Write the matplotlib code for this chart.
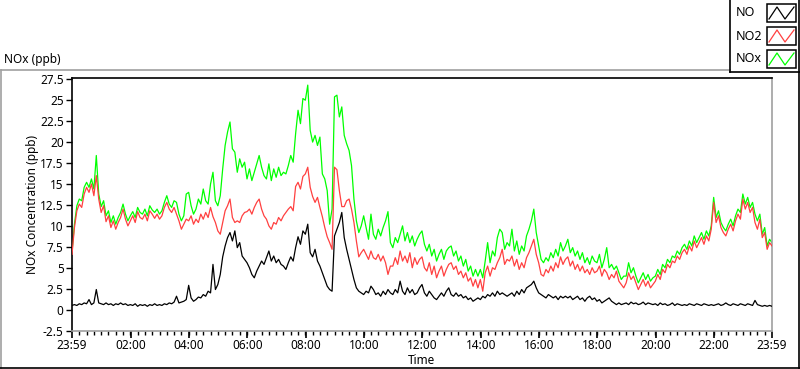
import matplotlib
matplotlib.use('Agg')
import matplotlib.pyplot as plt
from matplotlib.patches import Rectangle
import numpy as np

plt.rcParams['font.family'] = ['Noto Sans', 'DejaVu Sans']

# 5-minute readings starting at 23:59, one row per hour
no_ppb = [
    0.5, 0.6, 0.5, 0.7, 0.6, 0.8, 0.7, 1.2, 0.6, 0.8, 2.4, 0.8,
    0.7, 0.6, 0.8, 0.6, 0.7, 0.5, 0.7, 0.6, 0.8, 0.6, 0.7, 0.5,
    0.6, 0.5, 0.7, 0.4, 0.6, 0.5, 0.6, 0.4, 0.6, 0.5, 0.7, 0.5,
    0.6, 0.5, 0.7, 0.6, 0.8, 0.7, 0.9, 1.6, 0.8, 0.9, 1.0, 1.2,
    2.9, 1.4, 1.0, 1.2, 1.5, 1.4, 1.8, 1.6, 2.2, 2.0, 5.4, 2.4,
    3.0, 4.2, 6.3, 7.6, 8.6, 9.2, 8.2, 9.4, 7.4, 8.0, 6.4, 6.0,
    5.6, 5.0, 4.2, 3.8, 4.6, 5.2, 5.8, 5.4, 6.2, 7.0, 5.8, 6.4,
    5.6, 6.0, 5.4, 5.2, 4.8, 5.6, 6.3, 5.8, 7.4, 8.7, 7.8, 9.4,
    9.0, 10.2, 6.8, 6.3, 7.2, 5.8, 5.2, 4.4, 3.6, 2.8, 2.4, 2.2,
    8.8, 9.6, 10.4, 11.6, 8.6, 7.2, 6.0, 4.8, 3.6, 2.6, 2.2, 2.0,
    1.8, 2.2, 2.0, 2.8, 2.4, 1.8, 2.0, 1.6, 2.2, 1.8, 2.4, 2.0,
    1.8, 2.4, 2.0, 3.4, 2.2, 1.8, 2.6, 2.0, 2.4, 1.8, 2.0, 2.6,
    3.0, 2.0, 1.6, 2.2, 1.8, 1.4, 1.2, 1.6, 2.0, 1.6, 2.2, 2.6,
    1.8, 1.6, 2.0, 1.6, 1.8, 1.4, 1.6, 1.2, 1.4, 1.0, 1.2, 1.4,
    1.2, 1.6, 1.4, 1.8, 1.6, 2.0, 1.6, 2.2, 1.8, 2.0, 1.8, 1.6,
    1.8, 2.0, 1.6, 2.2, 1.8, 2.4, 2.0, 2.6, 2.8, 3.0, 3.4, 2.6,
    2.0, 1.8, 1.6, 1.4, 1.8, 1.6, 1.4, 1.6, 1.2, 1.6, 1.4, 1.6,
    1.4, 1.6, 1.2, 1.4, 1.6, 1.2, 1.4, 1.0, 1.4, 1.6, 1.2, 1.4,
    1.0, 1.2, 0.8, 1.0, 1.2, 1.4, 1.0, 0.8, 0.6, 0.8, 0.6, 0.7,
    0.8, 0.6, 0.9, 0.7, 0.8, 0.6, 0.7, 0.9, 0.6, 0.8, 0.7, 0.6,
    0.7, 0.5, 0.8, 0.6, 0.7, 0.5, 0.6, 0.8, 0.5, 0.7, 0.6, 0.5,
    0.6, 0.5, 0.7, 0.6, 0.5, 0.7, 0.6, 0.5, 0.7, 0.6, 0.5, 0.6,
    0.5, 0.6, 0.7, 0.5, 0.6, 0.8, 0.6, 0.5, 0.7, 0.6, 0.5, 0.7,
    0.6, 0.5, 0.7, 0.6, 0.5, 1.1, 0.6, 0.5, 0.4, 0.5, 0.4, 0.5,
    0.4,
]
no2_ppb = [
    6.6, 9.8, 11.8, 12.6, 12.2, 13.8, 14.6, 14.0, 15.0, 13.6, 16.0, 13.2,
    11.6, 12.4, 10.5, 11.2, 9.8, 10.6, 9.6, 10.4, 11.0, 12.0, 10.8, 10.0,
    10.6, 11.2, 10.4, 11.7, 11.0, 10.8, 11.4, 10.6, 11.8, 11.4, 10.9, 11.4,
    10.8, 11.2, 12.2, 12.8, 12.0, 11.6, 12.2, 11.4, 10.6, 9.6, 10.2, 10.8,
    10.6, 11.2, 10.2, 10.8, 10.4, 11.4, 10.8, 11.6, 11.0, 12.2, 11.1, 10.4,
    9.4, 9.0, 10.4, 11.8, 12.4, 13.2, 11.0, 10.4, 10.6, 10.4, 11.2, 11.6,
    11.7, 12.0, 11.4, 12.2, 12.8, 13.2, 12.0, 11.2, 10.8, 10.0, 9.6, 10.4,
    10.2, 11.0, 10.6, 11.2, 11.6, 12.0, 12.3, 11.8, 14.7, 15.2, 14.4, 15.9,
    16.2, 17.0, 14.6, 13.5, 12.8, 13.4, 12.2, 11.1, 9.8, 8.7, 8.0, 7.2,
    17.0, 16.7, 14.2, 12.3, 12.3, 13.0, 13.2, 12.0, 10.4, 8.2, 6.3, 6.8,
    7.2, 6.6, 6.0, 7.0, 6.2, 6.0, 6.6, 5.8, 6.4, 5.6, 4.2, 5.2,
    5.2, 6.2, 5.4, 7.0, 5.8, 6.4, 5.6, 6.8, 5.0, 6.2, 5.4, 6.0,
    6.3, 5.0, 4.6, 5.6, 4.2, 5.2, 3.8, 4.6, 5.2, 4.0, 4.8, 5.4,
    5.6, 4.8, 5.2, 4.2, 4.6, 3.8, 4.4, 3.4, 3.8, 2.8, 3.6, 2.6,
    3.6, 2.2, 4.4, 5.2, 4.0, 5.0, 4.8, 5.6, 6.2, 7.2, 5.4, 6.0,
    5.8, 6.4, 5.2, 6.0, 4.8, 5.6, 5.0, 6.2, 6.8, 7.6, 8.4, 6.6,
    5.6, 4.2, 4.0, 4.8, 4.4, 5.2, 4.6, 5.6, 5.0, 6.3, 5.4, 6.0,
    6.3, 5.2, 5.8, 4.8, 5.4, 4.6, 5.2, 4.4, 4.8, 4.2, 5.0, 4.4,
    4.6, 5.2, 4.0, 4.8, 4.4, 3.6, 4.2, 3.8, 4.6, 3.4, 3.0, 2.6,
    3.2, 4.4, 3.6, 4.0, 3.2, 2.4, 3.0, 3.6, 2.8, 3.4, 2.6, 3.0,
    3.4, 4.2, 3.6, 4.8, 4.4, 5.4, 5.0, 5.8, 5.6, 6.4, 6.0, 6.8,
    7.2, 6.6, 7.6, 7.0, 8.2, 7.4, 8.0, 8.6, 7.8, 8.8, 8.2, 9.6,
    12.8, 10.4, 11.2, 9.8, 9.2, 8.8, 9.6, 10.2, 9.4, 10.6, 11.4, 10.8,
    13.2, 12.0, 12.8, 11.6, 12.2, 10.4, 9.6, 10.8, 8.6, 9.2, 7.2, 8.0,
    7.6,
]
nox_ppb = [
    6.9, 10.2, 12.4, 13.2, 13.0, 14.6, 15.2, 14.6, 15.6, 14.4, 18.4, 13.8,
    12.3, 13.0, 11.2, 11.8, 10.4, 11.2, 10.2, 11.0, 11.6, 12.6, 11.4, 10.6,
    11.2, 11.7, 11.0, 12.2, 11.6, 11.4, 12.0, 11.2, 12.4, 11.9, 11.6, 12.0,
    11.4, 11.8, 12.8, 13.6, 12.6, 12.2, 13.0, 12.8, 11.4, 10.6, 11.2, 13.8,
    14.0, 12.4, 11.4, 12.0, 13.2, 12.6, 14.4, 13.0, 12.6, 15.0, 16.4, 13.0,
    12.4, 13.6, 16.8, 19.6, 21.2, 22.4, 19.2, 18.8, 16.4, 18.0, 17.0, 17.6,
    15.6, 16.8, 15.4, 16.4, 17.4, 18.4, 17.0, 16.0, 15.6, 17.4, 15.4, 16.8,
    15.8, 17.0, 16.0, 16.4, 16.2, 17.2, 18.4, 17.6, 21.0, 23.8, 22.2, 25.2,
    25.0, 26.8, 21.4, 20.0, 20.8, 19.6, 20.6, 16.2, 15.6, 14.2, 10.2, 12.0,
    25.4, 25.6, 23.0, 24.2, 20.8, 19.8, 19.0, 17.2, 13.2, 10.6, 9.2, 10.0,
    11.2, 9.8, 8.4, 11.4, 9.0, 8.4, 9.6, 8.8, 9.8, 10.6, 11.7, 8.0,
    7.4, 8.6, 8.0, 9.0, 10.0, 8.2, 9.2, 8.0, 8.8, 7.6, 8.4, 9.0,
    9.4, 7.8, 7.0, 7.8, 6.4, 7.2, 5.8, 6.6, 7.2, 6.0, 7.0, 7.4,
    7.6, 6.4, 7.0, 5.8, 6.4, 5.2, 6.0, 4.6, 5.2, 4.0, 4.8, 4.0,
    4.8, 3.8, 5.8, 8.0, 5.6, 7.0, 6.4, 8.6, 9.6, 9.2, 7.2, 8.0,
    7.6, 9.6, 7.0, 8.2, 6.6, 7.6, 7.0, 8.8, 9.6, 10.6, 12.0, 9.2,
    7.6, 6.0, 5.6, 6.2, 5.8, 6.8, 6.2, 7.2, 6.4, 8.0, 7.0, 7.6,
    8.4, 6.8, 7.4, 6.4, 7.0, 6.0, 6.8, 5.6, 6.2, 5.4, 6.4, 5.8,
    5.6, 6.6, 5.0, 6.0, 7.4, 5.0, 5.4, 4.8, 5.2, 4.4, 3.6, 4.0,
    4.0, 5.6, 4.4, 5.0, 4.0, 3.2, 3.8, 4.4, 3.6, 4.2, 3.4, 3.8,
    4.0, 4.8, 4.2, 5.4, 5.0, 6.0, 5.6, 6.4, 6.2, 7.0, 6.6, 7.4,
    7.8, 7.2, 8.2, 7.6, 8.8, 8.0, 8.6, 9.2, 8.4, 9.4, 8.8, 10.0,
    13.4, 11.0, 11.8, 10.4, 9.8, 9.4, 10.2, 10.8, 10.0, 11.2, 12.0, 11.6,
    13.8, 12.6, 13.4, 12.2, 12.8, 11.4, 10.6, 11.4, 9.0, 9.8, 7.6, 8.4,
    8.0,
]
tick_labels = ['23:59', '02:00', '04:00', '06:00', '08:00', '10:00', '12:00',
               '14:00', '16:00', '18:00', '20:00', '22:00', '23:59']
series_names = ['NO', 'NO2', 'NOx']
series_colors = ['black', '#FF4040', '#00FF00']

W, H = 800, 369
fig = plt.figure(figsize=(W / 100, H / 100), dpi=100)

# plot box: x 72..772, y 78..331 (pixels from top)
ax = fig.add_axes([72 / W, 1 - 331 / H, 700 / W, 253 / H])
hours = np.arange(len(no_ppb)) * 5 / 60.0

ax.plot(hours, nox_ppb, color=series_colors[2], lw=0.9, zorder=2)
ax.plot(hours, no2_ppb, color=series_colors[1], lw=0.9, zorder=3)
ax.plot(hours, no_ppb, color=series_colors[0], lw=0.9, zorder=4)

ax.set_xlim(0, 24)
ax.set_ylim(-2.55, 27.65)
ax.set_yticks(np.arange(-2.5, 27.6, 2.5))
ax.set_yticklabels(['%g' % v for v in np.arange(-2.5, 27.6, 2.5)])
major = [0] + [h + 1 / 60 for h in range(2, 23, 2)] + [24]
ax.set_xticks(major)
ax.set_xticklabels(tick_labels)
ax.set_xticks(np.arange(0, 24.01, 0.25), minor=True)
ax.tick_params(axis='y', length=4, width=1, pad=2, labelsize=8.5, colors='black')
ax.tick_params(axis='x', which='major', length=5, width=1.2, pad=1, labelsize=8.5)
ax.tick_params(axis='x', which='minor', length=3, width=1)

ax.spines['top'].set_color('black')
ax.spines['left'].set_color('black')
ax.spines['right'].set_color('#A0A0A0')
ax.spines['bottom'].set_color('#A0A0A0')
for s in ax.spines.values():
    s.set_linewidth(1.2)

# overlay in pixel coordinates for the frames, labels and legend
ov = fig.add_axes([0, 0, 1, 1], zorder=10)
ov.set_xlim(0, W)
ov.set_ylim(H, 0)
ov.axis('off')
ov.patch.set_alpha(0)

ov.plot([0.5, 730], [69.5, 69.5], color='#A0A0A0', lw=1.2)
ov.plot([0.6, 0.6], [69.5, 368], color='#A0A0A0', lw=1.2)
ov.plot([0, 800], [368, 368], color='black', lw=1.2)
ov.plot([799, 799], [0, 368], color='black', lw=1.2)
ov.plot([730, 730], [0, 72], color='black', lw=1.2)
ov.plot([730, 800], [72, 72], color='black', lw=1.2)

ov.text(4, 59, 'NOx (ppb)', fontsize=8.5, ha='left', va='center')
ov.text(33, 204, 'NOx Concentration (ppb)', fontsize=8.5, rotation=90,
        ha='center', va='center')
ov.text(422, 361, 'Time', fontsize=8.5, ha='center', va='center')

for i, (name, col) in enumerate(zip(series_names, series_colors)):
    yc = 13 + i * 23
    ov.text(736, yc, name, fontsize=9, ha='left', va='center')
    ov.add_patch(Rectangle((767, yc - 9), 29, 18, fill=False, ec='black', lw=1.1))
    ov.plot([769, 777, 785, 794], [yc + 6, yc - 6, yc + 6, yc - 6],
            color=col, lw=0.9)

fig.savefig('out.png', dpi=100)
